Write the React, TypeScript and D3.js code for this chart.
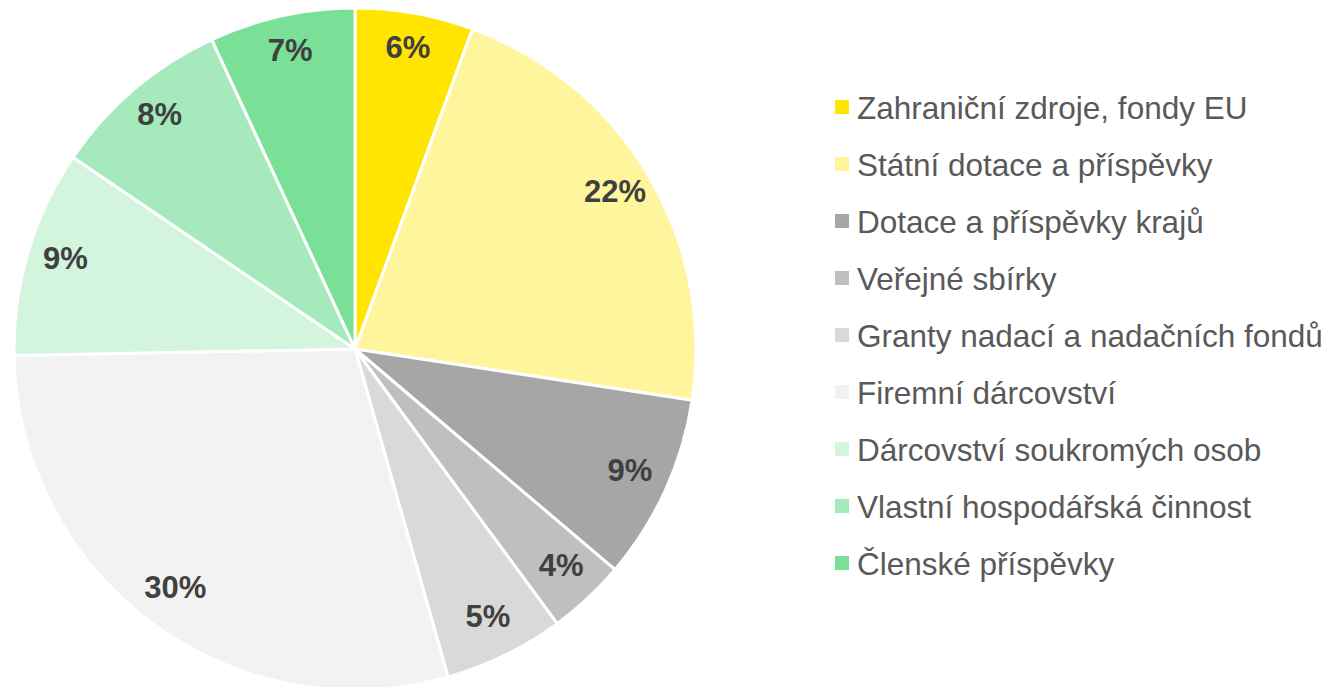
import { useEffect, useRef } from 'react'
import * as d3 from 'd3'

// categories, shares and the printed labels
const categories = [
  'Zahraniční zdroje, fondy EU',
  'Státní dotace a příspěvky',
  'Dotace a příspěvky krajů',
  'Veřejné sbírky',
  'Granty nadací a nadačních fondů',
  'Firemní dárcovství',
  'Dárcovství soukromých osob',
  'Vlastní hospodářská činnost',
  'Členské příspěvky',
]
const shares = [5.6, 21.8, 8.8, 3.7, 5.7, 29.1, 9.8, 8.6, 6.9]
const shareLabels = ['6%', '22%', '9%', '4%', '5%', '30%', '9%', '8%', '7%']
const colors = ['#FFE500', '#FFF59D', '#A6A6A6', '#BFBFBF', '#D9D9D9', '#F2F2F2', '#D3F4DD', '#A6E9BC', '#7ADF97']

const W = 1333
const H = 687

export default function App() {
  const svgRef = useRef<SVGSVGElement | null>(null)

  useEffect(() => {
    if (!svgRef.current) return
    const svg = d3.select(svgRef.current)
    svg.selectAll('*').remove()

    const cx = 355
    const cy = 349
    const radius = 341

    const pie = d3.pie<number>().sort(null).value(d => d)
    const arcs = pie(shares)
    const arc = d3.arc<d3.PieArcDatum<number>>().innerRadius(0).outerRadius(radius)
    const labelArc = d3.arc<d3.PieArcDatum<number>>().innerRadius(302).outerRadius(302)

    const g = svg.append('g').attr('transform', `translate(${cx},${cy})`)

    g.selectAll('path.slice')
      .data(arcs)
      .enter()
      .append('path')
      .attr('class', 'slice')
      .attr('d', arc)
      .attr('fill', (d, i) => colors[i])
      .attr('stroke', '#fff')
      .attr('stroke-width', 3)
      .attr('stroke-linejoin', 'round')

    g.selectAll('text.pct')
      .data(arcs)
      .enter()
      .append('text')
      .attr('class', 'pct')
      .attr('transform', d => {
        const [x, y] = labelArc.centroid(d)
        return `translate(${x},${y - 4})`
      })
      .attr('text-anchor', 'middle')
      .attr('dominant-baseline', 'central')
      .style('font-family', '"Liberation Sans", Arial, sans-serif')
      .style('font-size', '31px')
      .style('font-weight', 'bold')
      .style('fill', '#404040')
      .text((d, i) => shareLabels[i])

    // Legend
    const legend = svg.append('g').attr('transform', 'translate(835,107)')
    const rowGap = 57
    const item = legend.selectAll('g.item')
      .data(categories)
      .enter()
      .append('g')
      .attr('class', 'item')
      .attr('transform', (d, i) => `translate(0,${i * rowGap})`)

    item.append('rect')
      .attr('x', 0)
      .attr('y', -7)
      .attr('width', 14)
      .attr('height', 14)
      .attr('fill', (d, i) => colors[i])

    item.append('text')
      .attr('x', 22)
      .attr('y', 1)
      .attr('dominant-baseline', 'central')
      .attr('textLength', null)
      .style('font-family', '"Liberation Sans", Arial, sans-serif')
      .style('font-size', '31.5px')
      .style('fill', '#595959')
      .text(d => d)
  }, [])

  return (
    <div style={{ position: 'absolute', left: 0, top: 0, width: W, height: H, background: '#fff', overflow: 'hidden' }}>
      <svg ref={svgRef} width={W} height={H}></svg>
    </div>
  )
}
